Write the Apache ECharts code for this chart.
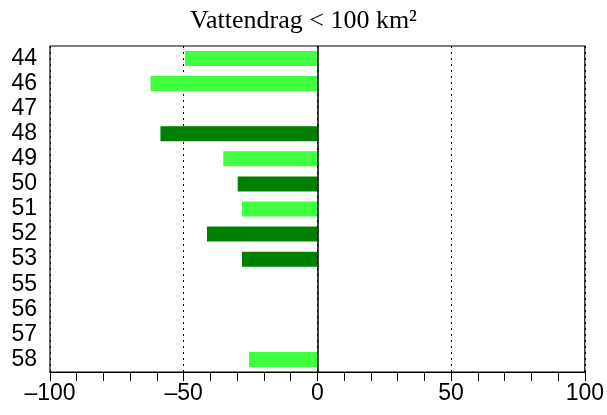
<!DOCTYPE html>
<html>
<head>
<meta charset="utf-8">
<script src="https://cdn.jsdelivr.net/npm/echarts@6/dist/echarts.min.js"></script>
<style>
html,body{margin:0;padding:0;background:#fff;}
#chart{width:607px;height:415px;}
</style>
</head>
<body>
<div id="chart"></div>
<script>
// kategorier (uppifrån och ned)
var categories = ['44','46','47','48','49','50','51','52','53','55','56','57','58'];
// ljusgröna staplar
var lightValues = [-49.5, -62.4, '-', '-', -35.2, '-', -28.2, '-', '-', '-', '-', '-', -25.6];
// mörkgröna staplar
var darkValues = ['-', '-', '-', -58.7, '-', -29.8, '-', -41.3, -28.2, '-', '-', '-', '-'];
var xTickLabels = [-100, -50, 0, 50, 100];

var chart = echarts.init(document.getElementById('chart'));

var option = {
    animation: false,
    backgroundColor: '#fff',
    title: {
        text: 'Vattendrag < 100 km²',
        left: 'center',
        top: 3,
        textStyle: {
            fontFamily: 'Liberation Serif',
            fontWeight: 'normal',
            fontSize: 26,
            color: '#000'
        }
    },
    grid: {
        left: 50,
        right: 19,
        top: 46,
        bottom: 43,
        show: true,
        borderColor: '#000',
        borderWidth: 1.2,
        containLabel: false
    },
    xAxis: [{
        type: 'value',
        min: -100,
        max: 100,
        interval: 10,
        axisLine: {show: true, onZero: false, lineStyle: {color: '#000', width: 1.2}},
        axisTick: {show: true, inside: false, length: 9, lineStyle: {color: '#000'}},
        splitLine: {show: false},
        axisLabel: {
            margin: 10,
            fontFamily: 'Liberation Sans',
            fontSize: 23,
            color: '#000',
            formatter: function (v) {
                if (xTickLabels.indexOf(v) < 0) return '';
                return v < 0 ? '\u2013' + Math.abs(v) : String(v);
            }
        }
    }, {
        type: 'value',
        min: -100,
        max: 100,
        interval: 50,
        position: 'bottom',
        axisLine: {show: false},
        axisTick: {show: false},
        axisLabel: {show: false},
        splitLine: {show: true, lineStyle: {color: '#000', type: [2, 4], width: 1}}
    }],
    yAxis: {
        type: 'category',
        data: categories,
        inverse: true,
        axisLine: {show: false},
        axisTick: {show: false},
        axisLabel: {
            interval: 0,
            margin: 13,
            fontFamily: 'Liberation Sans',
            fontSize: 23,
            color: '#000'
        }
    },
    series: [{
        name: 'ljus',
        type: 'bar',
        data: lightValues,
        barWidth: 15,
        barGap: '-100%',
        itemStyle: {color: '#40FF40'},
        markLine: {
            symbol: 'none',
            silent: true,
            label: {show: false},
            lineStyle: {color: '#000', type: 'solid', width: 1.5},
            data: [{xAxis: 0}]
        }
    }, {
        name: 'mork',
        type: 'bar',
        data: darkValues,
        barWidth: 15,
        barGap: '-100%',
        itemStyle: {color: '#008000'}
    }]
};

chart.setOption(option);
</script>
</body>
</html>
